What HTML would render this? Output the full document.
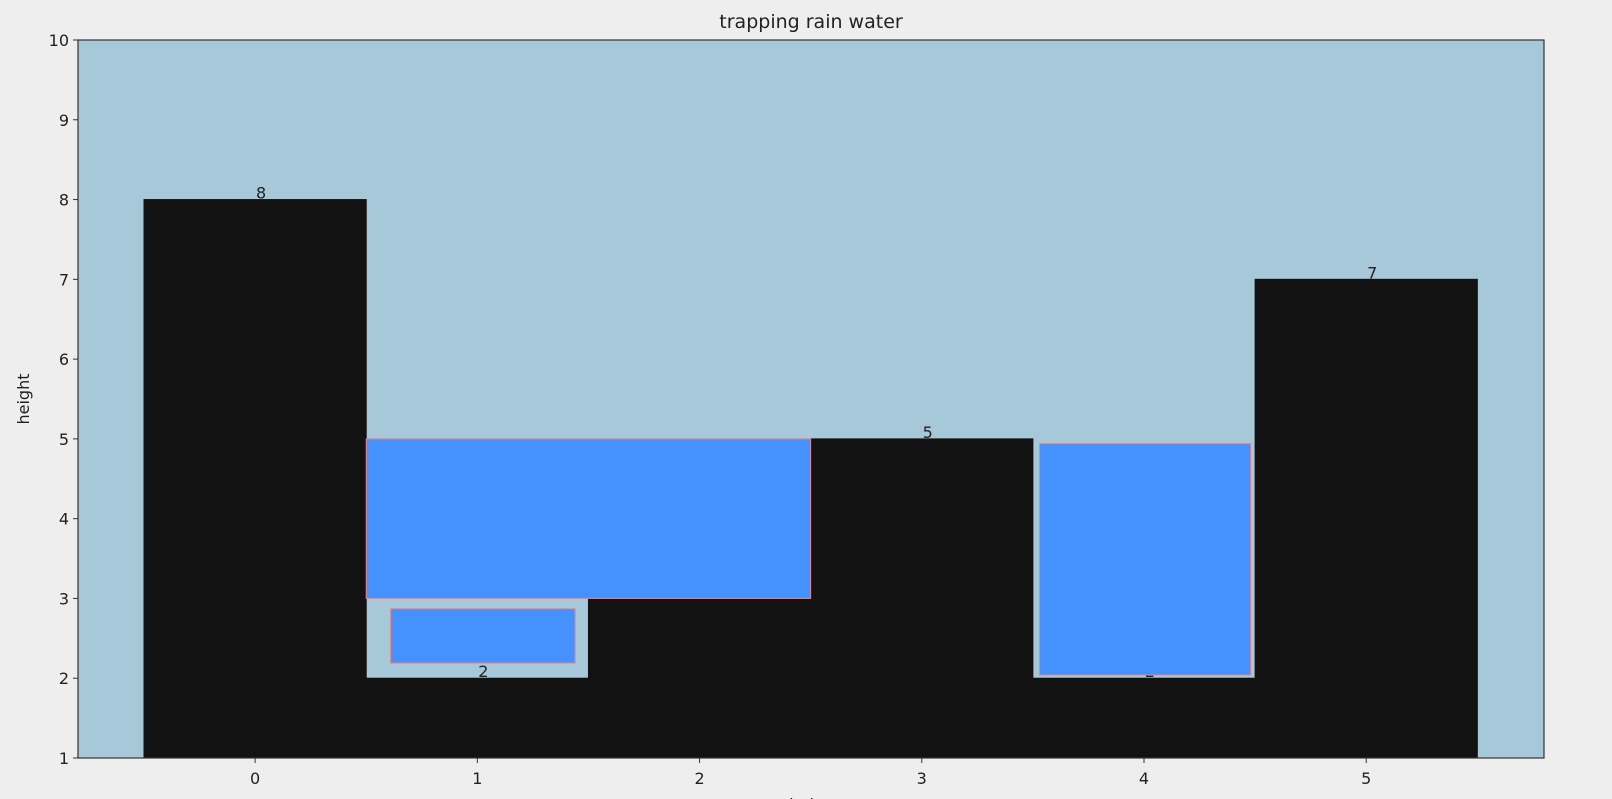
<!DOCTYPE html>
<html><head><meta charset="utf-8"><style>
html,body{margin:0;padding:0;background:#eeeeee;}
svg{display:block;font-family:"DejaVu Sans","Liberation Sans",sans-serif;}
</style></head><body>
<svg id="chart" width="1612" height="799">
<rect width="1612" height="799" fill="#eeeeee"/>
</svg>
<script>
const categories = [0, 1, 2, 3, 4, 5];
const heights = [8, 2, 3, 5, 2, 7];
const waterX0 = [0.5, 0.61, 3.53];
const waterX1 = [2.5, 1.44, 4.48];
const waterY0 = [3, 2.19, 2.04];
const waterY1 = [5, 2.87, 4.94];
const yTicks = [1,2,3,4,5,6,7,8,9,10];
const xTicks = [0,1,2,3,4,5];

const L=78,R=1544,T=40,B=758;
const xMin=-0.797,xMax=5.80,yMin=1,yMax=10;
const sx=v=>L+(v-xMin)/(xMax-xMin)*(R-L);
const sy=v=>B-(v-yMin)/(yMax-yMin)*(B-T);
const svg=document.getElementById('chart');
const NS='http://www.w3.org/2000/svg';
function mk(tag,attrs,parent){const e=document.createElementNS(NS,tag);for(const k in attrs)e.setAttribute(k,attrs[k]);(parent||svg).appendChild(e);return e;}

const bg=mk('rect',{x:L,y:T,width:R-L,height:B-T,fill:'#a6c8d8'});



categories.forEach((c,i)=>{
  const x0=sx(c-0.5),x1=sx(c+0.5);
  const b=mk('rect',{x:x0,y:sy(heights[i]),width:x1-x0,height:sy(yMin)-sy(heights[i]),fill:'#121212',stroke:'#121212',"stroke-width":1});
  
  
});
categories.forEach((c,i)=>{
  const t=mk('text',{x:sx(c)+6,y:sy(heights[i])-1,"text-anchor":"middle","font-size":16,fill:'#222'});
  t.textContent=heights[i];
  
  
});
waterX0.forEach((_,i)=>{
  const w=mk('rect',{x:sx(waterX0[i]),y:sy(waterY1[i]),width:sx(waterX1[i])-sx(waterX0[i]),height:sy(waterY0[i])-sy(waterY1[i]),fill:'#4592ff',stroke:'#f08080',"stroke-width":1});
  
  
});

const frame=mk('rect',{x:L,y:T,width:R-L,height:B-T,fill:'none',stroke:'#333',"stroke-width":1.2});



yTicks.forEach(v=>{
  const y=sy(v);
  const tk=mk('line',{x1:L-5,x2:L,y1:y,y2:y,stroke:'#333'});
  
  
  const t=mk('text',{x:L-9,y:y+6,"text-anchor":"end","font-size":16,fill:'#222'});
  t.textContent=v;
  
  
});
xTicks.forEach(v=>{
  const x=sx(v);
  const tk=mk('line',{x1:x,x2:x,y1:B,y2:B+5,stroke:'#333'});
  
  
  const t=mk('text',{x:x,y:B+26,"text-anchor":"middle","font-size":16,fill:'#222'});
  t.textContent=v;
  
  
});
const title=mk('text',{x:(L+R)/2,y:28,"text-anchor":"middle","font-size":19,fill:'#222'});
title.textContent='trapping rain water';


const yl=mk('text',{x:0,y:0,"text-anchor":"middle","font-size":16,fill:'#222',transform:'translate(29,'+((T+B)/2)+') rotate(-90)'});
yl.textContent='height';


const xl=mk('text',{x:(L+R)/2,y:810,"text-anchor":"middle","font-size":16,fill:'#222'});
xl.textContent='index';


</script>
</body></html>
